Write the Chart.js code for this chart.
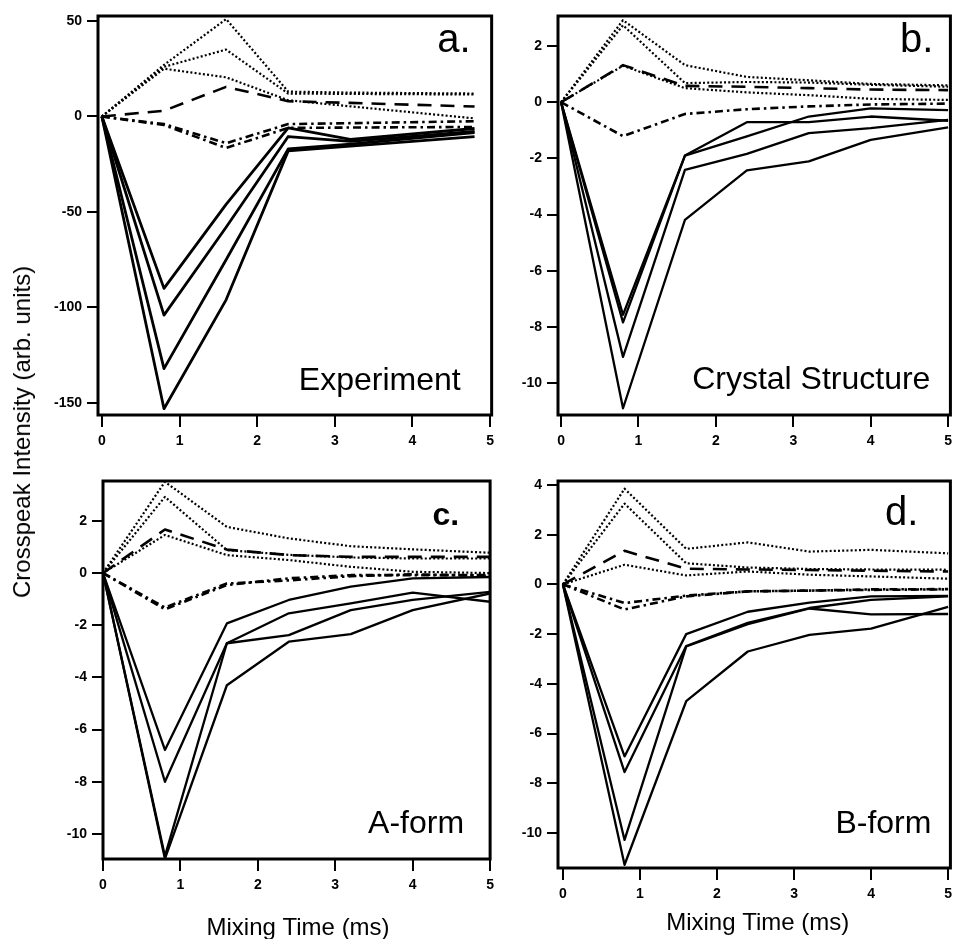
<!DOCTYPE html>
<html>
<head>
<meta charset="utf-8">
<script src="https://cdn.jsdelivr.net/npm/chart.js@4.4.0/dist/chart.umd.min.js"></script>
<style>
  html, body { margin: 0; padding: 0; background: #fff; }
  #wrap { position: relative; width: 958px; height: 939px; overflow: hidden; }
  canvas { position: absolute; }
  #ytitle {
    position: absolute; left: 22px; top: 432px;
    transform: translate(-50%, -50%) rotate(-90deg);
    font: 24px/24px "Liberation Sans", Arial, sans-serif;
    white-space: nowrap; color: #000;
  }
</style>
</head>
<body>
<div id="wrap">
  <canvas id="plot-a" width="500" height="460" style="left:0;top:0"></canvas>
  <canvas id="plot-b" width="458" height="460" style="left:500px;top:0"></canvas>
  <canvas id="plot-c" width="500" height="479" style="left:0;top:460px"></canvas>
  <canvas id="plot-d" width="458" height="479" style="left:500px;top:460px"></canvas>
  <div id="ytitle">Crosspeak Intensity (arb. units)</div>
</div>
<script>
// mixing times (ms)
const expTimes = [0, 0.8, 1.6, 2.4, 3.2, 4.8];
const simTimes = [0, 0.8, 1.6, 2.4, 3.2, 4.0, 5.0];
const xTicks = [0, 1, 2, 3, 4, 5];

// a. Experiment
const expSolid1 = [0, -90, -46, -6, -12, -6.3];
const expSolid2 = [0, -104, -58, -10.5, -13, -7.8];
const expSolid3 = [0, -132, -75, -17, -14.5, -8.4];
const expSolid4 = [0, -153, -96, -18, -15.5, -10.5];
const expDot1 = [0, 27, 51, 13, 12.5, 12];
const expDot2 = [0, 26, 35, 12, 11.8, 11.5];
const expDot3 = [0, 25, 20.5, 8.5, 5.3, -1];
const expDash = [0, 3, 15.5, 8, 7.1, 5.2];
const expDashDot1 = [0, -4, -14, -4, -3.5, -2.5];
const expDashDot2 = [0, -4.5, -16.5, -6, -5.8, -5.5];
const expYTicks = [-150, -100, -50, 0, 50];

// b. Crystal Structure
const crySolid1 = [0, -7.57, -1.9, -0.71, -0.71, -0.51, -0.66];
const crySolid2 = [0, -7.84, -1.9, -1.22, -0.51, -0.22, -0.28];
const crySolid3 = [0, -9.07, -2.41, -1.84, -1.1, -0.92, -0.63];
const crySolid4 = [0, -10.9, -4.19, -2.43, -2.11, -1.34, -0.9];
const cryDot1 = [0, 2.92, 1.32, 0.9, 0.78, 0.65, 0.6];
const cryDot2 = [0, 2.74, 0.68, 0.72, 0.7, 0.62, 0.55];
const cryDot3 = [0, 1.3, 0.5, 0.35, 0.25, 0.12, 0.08];
const cryDash = [0, 1.32, 0.58, 0.55, 0.5, 0.45, 0.43];
const cryDashDot = [0, -1.21, -0.42, -0.25, -0.15, -0.08, -0.05];
const cryYTicks = [-10, -8, -6, -4, -2, 0, 2];

// c. A-form
const aSolid1 = [0, -6.78, -1.93, -1.03, -0.52, -0.2, -0.15];
const aSolid2 = [0, -8.0, -2.69, -1.54, -1.16, -0.75, -1.1];
const aSolid3 = [0, -10.85, -2.69, -2.38, -1.42, -1.03, -0.72];
const aSolid4 = [0, -10.95, -4.3, -2.63, -2.34, -1.42, -0.78];
const aDot1 = [0, 3.5, 1.77, 1.33, 1.03, 0.91, 0.78];
const aDot2 = [0, 2.92, 0.88, 0.7, 0.6, 0.56, 0.56];
const aDot3 = [0, 1.46, 0.69, 0.5, 0.24, 0.05, 0];
const aDash = [0, 1.67, 0.9, 0.69, 0.62, 0.62, 0.62];
const aDashDot1 = [0, -1.39, -0.46, -0.2, -0.08, -0.08, -0.08];
const aDashDot2 = [0, -1.32, -0.4, -0.28, -0.12, -0.05, -0.1];
const aYTicks = [-10, -8, -6, -4, -2, 0, 2];

// d. B-form
const bSolid1 = [0, -6.92, -2.0, -1.1, -0.73, -0.48, -0.46];
const bSolid2 = [0, -7.55, -2.48, -1.55, -0.95, -0.62, -0.48];
const bSolid3 = [0, -10.28, -2.5, -1.6, -0.97, -1.21, -1.19];
const bSolid4 = [0, -11.28, -4.7, -2.7, -2.03, -1.78, -0.9];
const bDot1 = [0, 3.85, 1.43, 1.69, 1.32, 1.39, 1.25];
const bDot2 = [0, 3.25, 0.85, 0.68, 0.62, 0.6, 0.59];
const bDot3 = [0, 0.79, 0.36, 0.52, 0.39, 0.32, 0.23];
const bDash = [0, 1.35, 0.63, 0.6, 0.58, 0.55, 0.52];
const bDashDot1 = [0, -0.75, -0.45, -0.28, -0.25, -0.22, -0.2];
const bDashDot2 = [0, -1.01, -0.48, -0.28, -0.25, -0.2, -0.19];
const bYTicks = [-10, -8, -6, -4, -2, 0, 2, 4];

const FONT = '"Liberation Sans", Arial, sans-serif';

const lineStyles = {
    solid: { borderWidth: 2.3, borderDash: [] },
    heavy: { borderWidth: 2.8, borderDash: [] },
    dot: { borderWidth: 2.2, borderDash: [2, 2.2] },
    dash: { borderWidth: 2.6, borderDash: [14, 9] },
    dashdot: { borderWidth: 2.6, borderDash: [8, 4, 2.5, 4] }
};

const framePlugin = {
    id: 'frame',
    afterDatasetsDraw(chart, args, o) {
        const { ctx, chartArea: a } = chart;
        ctx.save();
        ctx.strokeStyle = '#000';
        ctx.lineWidth = 3;
        ctx.strokeRect(a.left, a.top, a.right - a.left, a.bottom - a.top);
        ctx.fillStyle = '#000';
        ctx.textAlign = 'right';
        ctx.textBaseline = 'alphabetic';
        ctx.font = o.letterFont + ' ' + FONT;
        ctx.fillText(o.letter, a.right - o.letterDx, a.top + o.letterDy);
        ctx.font = '32px ' + FONT;
        ctx.fillText(o.name, a.right - o.nameDx, a.bottom - o.nameDy);
        if (o.xTitle) {
            ctx.textAlign = 'center';
            ctx.font = '24px ' + FONT;
            ctx.fillText(o.xTitle, (a.left + a.right) / 2 + o.xTitleDx, chart.height - o.xTitleDy);
        }
        ctx.restore();
    }
};

function makePanel(id, times, series, yTicks, box, frame) {
    const datasets = series.map(s => Object.assign({
        data: times.map((t, i) => ({ x: t, y: s.values[i] })),
        borderColor: '#000',
        pointRadius: 0,
        fill: false,
        tension: 0,
        borderJoinStyle: 'round'
    }, lineStyles[s.style]));

    const tickFont = { family: FONT, weight: 'bold', size: 14 };

    return new Chart(id, {
        type: 'line',
        data: { datasets },
        plugins: [framePlugin],
        options: {
            responsive: false,
            animation: false,
            devicePixelRatio: 1,
            layout: { padding: { top: box.top, right: box.right, left: 0, bottom: 0 } },
            plugins: {
                legend: { display: false },
                tooltip: { enabled: false },
                frame
            },
            scales: {
                x: {
                    type: 'linear',
                    min: box.xMin,
                    max: box.xMax,
                    afterFit: s => { s.height = box.xH; },
                    afterBuildTicks: s => { s.ticks = xTicks.map(v => ({ value: v })); },
                    grid: { drawOnChartArea: false, drawTicks: true, tickLength: 12, color: '#000', lineWidth: 2 },
                    border: { display: false },
                    ticks: { color: '#000', font: tickFont, padding: 6, maxRotation: 0, autoSkip: false }
                },
                y: {
                    type: 'linear',
                    min: box.yMin,
                    max: box.yMax,
                    afterFit: s => { s.width = box.yW; },
                    afterBuildTicks: s => { s.ticks = yTicks.map(v => ({ value: v })); },
                    grid: { drawOnChartArea: false, drawTicks: true, tickLength: 11, color: '#000', lineWidth: 2 },
                    border: { display: false },
                    ticks: { color: '#000', font: tickFont, padding: 5, autoSkip: false }
                }
            }
        }
    });
}

makePanel('plot-a', expTimes, [
    { values: expSolid1, style: 'heavy' },
    { values: expSolid2, style: 'heavy' },
    { values: expSolid3, style: 'heavy' },
    { values: expSolid4, style: 'heavy' },
    { values: expDot1, style: 'dot' },
    { values: expDot2, style: 'dot' },
    { values: expDot3, style: 'dot' },
    { values: expDash, style: 'dash' },
    { values: expDashDot1, style: 'dashdot' },
    { values: expDashDot2, style: 'dashdot' }
], expYTicks,
    { top: 16, right: 4, yW: 98, xH: 45, xMin: -0.05, xMax: 5.02, yMin: -156.3, yMax: 52.6 },
    { letter: 'a.', letterFont: '40px', letterDx: 21, letterDy: 36, name: 'Experiment', nameDx: 31, nameDy: 25 });

makePanel('plot-b', simTimes, [
    { values: crySolid1, style: 'solid' },
    { values: crySolid2, style: 'solid' },
    { values: crySolid3, style: 'solid' },
    { values: crySolid4, style: 'solid' },
    { values: cryDot1, style: 'dot' },
    { values: cryDot2, style: 'dot' },
    { values: cryDot3, style: 'dot' },
    { values: cryDash, style: 'dash' },
    { values: cryDashDot, style: 'dashdot' }
], cryYTicks,
    { top: 16, right: 3, yW: 58, xH: 45, xMin: -0.04, xMax: 5.03, yMin: -11.14, yMax: 3.07 },
    { letter: 'b.', letterFont: '40px', letterDx: 17, letterDy: 36, name: 'Crystal Structure', nameDx: 20, nameDy: 26 });

makePanel('plot-c', simTimes, [
    { values: aSolid1, style: 'solid' },
    { values: aSolid2, style: 'solid' },
    { values: aSolid3, style: 'solid' },
    { values: aSolid4, style: 'solid' },
    { values: aDot1, style: 'dot' },
    { values: aDot2, style: 'dot' },
    { values: aDot3, style: 'dot' },
    { values: aDash, style: 'dash' },
    { values: aDashDot1, style: 'dashdot' },
    { values: aDashDot2, style: 'dashdot' }
], aYTicks,
    { top: 21, right: 4, yW: 103, xH: 80, xMin: 0, xMax: 5.0, yMin: -10.96, yMax: 3.53 },
    { letter: 'c.', letterFont: 'bold 32px', letterDx: 31, letterDy: 44, name: 'A-form', nameDx: 26, nameDy: 26,
      xTitle: 'Mixing Time (ms)', xTitleDx: 1.5, xTitleDy: 4 });

makePanel('plot-d', simTimes, [
    { values: bSolid1, style: 'solid' },
    { values: bSolid2, style: 'solid' },
    { values: bSolid3, style: 'solid' },
    { values: bSolid4, style: 'solid' },
    { values: bDot1, style: 'dot' },
    { values: bDot2, style: 'dot' },
    { values: bDot3, style: 'dot' },
    { values: bDash, style: 'dash' },
    { values: bDashDot1, style: 'dashdot' },
    { values: bDashDot2, style: 'dashdot' }
], bYTicks,
    { top: 21, right: 3, yW: 58, xH: 71, xMin: -0.064, xMax: 5.03, yMin: -11.41, yMax: 4.16 },
    { letter: 'd.', letterFont: '40px', letterDx: 32, letterDy: 44, name: 'B-form', nameDx: 19, nameDy: 35,
      xTitle: 'Mixing Time (ms)', xTitleDx: 3.5, xTitleDy: 9 });
</script>
</body>
</html>
